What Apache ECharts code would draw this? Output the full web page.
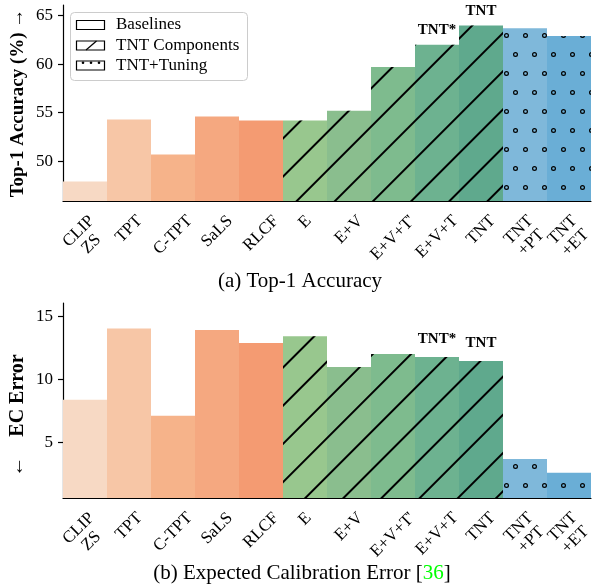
<!DOCTYPE html>
<html>
<head>
<meta charset="utf-8">
<script src="https://cdn.jsdelivr.net/npm/echarts@6/dist/echarts.min.js"></script>
<style>
  html, body { margin: 0; padding: 0; background: #fff; }
  #chart { width: 594px; height: 588px; }
</style>
</head>
<body>
<div id="chart"></div>
<script>
// categories and groups
var methods = ['CLIP\nZS', 'TPT', 'C-TPT', 'SaLS', 'RLCF', 'E', 'E+V', "E+V+T'", 'E+V+T', 'TNT', 'TNT\n+PT', 'TNT\n+ET'];
var groupOf = ['Baselines', 'Baselines', 'Baselines', 'Baselines', 'Baselines',
  'TNT Components', 'TNT Components', 'TNT Components', 'TNT Components', 'TNT Components',
  'TNT+Tuning', 'TNT+Tuning'];
var groupNames = ['Baselines', 'TNT Components', 'TNT+Tuning'];
var tags = ['', '', '', '', '', '', '', '', 'TNT*', 'TNT', '', ''];

// values
var top1Acc = [47.9, 54.3, 50.7, 54.6, 54.2, 54.2, 55.2, 59.7, 62.0, 64.0, 63.7, 62.9];
var ecError = [8.36, 14.03, 7.1, 13.9, 12.87, 13.42, 10.97, 12.0, 11.76, 11.45, 3.66, 2.58];

// tick labels
var accTicks = [50, 55, 60, 65];
var eceTicks = [5, 10, 15];

// styles
var barColors = ['#f7d9c4', '#f7c6a6', '#f6b38a', '#f5a880', '#f49b72',
  '#98c78e', '#8abe8e', '#7ebb8e', '#6db290', '#5fa98d',
  '#7fb8da', '#6aaed6'];
var serif = '"Liberation Serif", "DejaVu Serif", serif';
var ring = 'path://M0,-5 A5,5 0 1,1 0,5 A5,5 0 1,1 0,-5 Z M0,-2.6 A2.6,2.6 0 1,0 0,2.6 A2.6,2.6 0 1,0 0,-2.6 Z';
var hatch = { symbol: 'rect', symbolSize: 1, color: '#000', dashArrayX: [1, 0], dashArrayY: [2, 25], rotation: -Math.PI / 4 };
// staggered rings: an empty row, then a row of rings, alternating x offsets (each panel has its own phase)
function ringDots(yOffset) {
  return {
    symbol: ring, symbolSize: 1, color: '#000', rotation: 0,
    dashArrayX: [[0, 19], [0, 10, 5, 4], [0, 19], [5, 14]],
    dashArrayY: [0, yOffset, 5, 14 - yOffset]
  };
}
var decals = [
  { 'Baselines': null, 'TNT Components': hatch, 'TNT+Tuning': ringDots(14) },
  { 'Baselines': null, 'TNT Components': hatch, 'TNT+Tuning': ringDots(8) }
];
var axisMin = [45.9, 0.57];
var axisMax = [66.1, 16.05];

function xAxisOpt(idx) {
  return {
    type: 'category', gridIndex: idx, data: methods,
    axisLine: { lineStyle: { color: '#000', width: 1.2 } },
    axisTick: { alignWithLabel: true, length: 5, lineStyle: { color: '#000', width: 1.2 } },
    axisLabel: { show: false }
  };
}

function yAxisOpt(idx, ticks, name, nameSize, namePad) {
  return {
    type: 'value', gridIndex: idx, min: axisMin[idx], max: axisMax[idx],
    splitLine: { show: false },
    axisLine: { show: true, lineStyle: { color: '#000', width: 1.2 } },
    axisTick: { show: true, length: 5, customValues: ticks, lineStyle: { color: '#000', width: 1.2 } },
    axisLabel: { customValues: ticks, margin: 10, fontSize: 17, fontFamily: serif, color: '#000' },
    name: name, nameLocation: 'middle', nameGap: 35, nameMoveOverlap: false,
    nameTextStyle: { fontWeight: 'bold', fontSize: nameSize, fontFamily: serif, color: '#000', padding: namePad }
  };
}

function groupSeries(idx, values, group, labelDist) {
  var decal = decals[idx][group];
  return {
    type: 'bar', name: group, xAxisIndex: idx, yAxisIndex: idx,
    barWidth: '100%', barGap: '-100%',
    itemStyle: decal ? { decal: decal } : {},
    emphasis: { disabled: true },
    data: values.map(function (v, i) {
      if (groupOf[i] !== group) return '-';
      var d = { value: v, itemStyle: { color: barColors[i] } };
      if (tags[i]) {
        d.label = {
          show: true, formatter: tags[i], position: 'top', distance: labelDist,
          fontSize: 15, fontWeight: 'bold', fontFamily: serif, color: '#000'
        };
      }
      return d;
    })
  };
}

var series = [];
groupNames.forEach(function (g) { series.push(groupSeries(0, top1Acc, g, 7)); });
groupNames.forEach(function (g) { series.push(groupSeries(1, ecError, g, 10)); });

// legend box
var legendY = [25, 45.5, 65.5];
var graphics = [
  { type: 'rect', shape: { x: 70.5, y: 12.5, width: 177, height: 68, r: 4 },
    style: { fill: 'rgba(255,255,255,0.8)', stroke: '#cccccc', lineWidth: 1 }, z: 100 }
];
groupNames.forEach(function (g, i) {
  graphics.push({ type: 'rect', shape: { x: 76.5, y: legendY[i] - 4.5, width: 28, height: 9 },
    style: { fill: '#fff', stroke: '#000', lineWidth: 1.2 }, z: 101 });
  graphics.push({ type: 'text', x: 116, y: legendY[i],
    style: { text: g, font: '17px ' + serif, fill: '#000', verticalAlign: 'middle' }, z: 101 });
});
graphics.push({ type: 'line', shape: { x1: 86, y1: 50, x2: 96.5, y2: 41 },
  style: { stroke: '#000', lineWidth: 1.2 }, z: 102 });
[83, 91, 99].forEach(function (cx) {
  graphics.push({ type: 'circle', shape: { cx: cx, cy: 62.8, r: 1.3 }, style: { fill: '#000' }, z: 102 });
});

var chart = echarts.init(document.getElementById('chart'), null, { renderer: 'canvas' });
chart.setOption({
  animation: false,
  backgroundColor: '#fff',
  title: [
    { text: '(a) Top-1 Accuracy', left: 300, top: 271, textAlign: 'center', padding: 0,
      textStyle: { fontSize: 21, fontWeight: 'normal', fontFamily: serif, color: '#000' } },
    { text: '(b) Expected Calibration Error [{g|36}]', left: 302, top: 563, textAlign: 'center', padding: 0,
      textStyle: { fontSize: 21, fontWeight: 'normal', fontFamily: serif, color: '#000',
        rich: { g: { fontSize: 21, fontFamily: serif, color: '#00ff00' } } } }
  ],
  grid: [
    { left: 63, top: 5, width: 528, height: 196, outerBoundsMode: 'none' },
    { left: 63, top: 303, width: 528, height: 195, outerBoundsMode: 'none' }
  ],
  xAxis: [xAxisOpt(0), xAxisOpt(1)],
  yAxis: [
    yAxisOpt(0, accTicks, 'Top-1 Accuracy (%) →', 19, [0, 0, 0, 0]),
    yAxisOpt(1, eceTicks, '←    EC Error', 20, [0, 30, 0, 0])
  ],
  series: series
});

// category labels: rotated 45°, each one centred under its tick (matplotlib ha='center')
var measure = document.createElement('canvas').getContext('2d');
measure.font = '17px ' + serif;
var lineH = 18;
[0, 1].forEach(function (idx) {
  var axisY = chart.convertToPixel({ yAxisIndex: idx }, axisMin[idx]);
  methods.forEach(function (m, i) {
    var lines = m.split('\n');
    var L = Math.max.apply(null, lines.map(function (s) { return measure.measureText(s).width; }));
    var H = lines.length * lineH;
    var x = chart.convertToPixel({ xAxisIndex: idx }, i);
    graphics.push({
      type: 'text', x: x, y: axisY + 11 + (L + H) / (2 * Math.SQRT2), rotation: Math.PI / 4,
      style: { text: m, font: '17px ' + serif, fill: '#000', align: 'center', verticalAlign: 'middle', lineHeight: lineH }
    });
  });
});
chart.setOption({ graphic: graphics });
</script>
</body>
</html>
